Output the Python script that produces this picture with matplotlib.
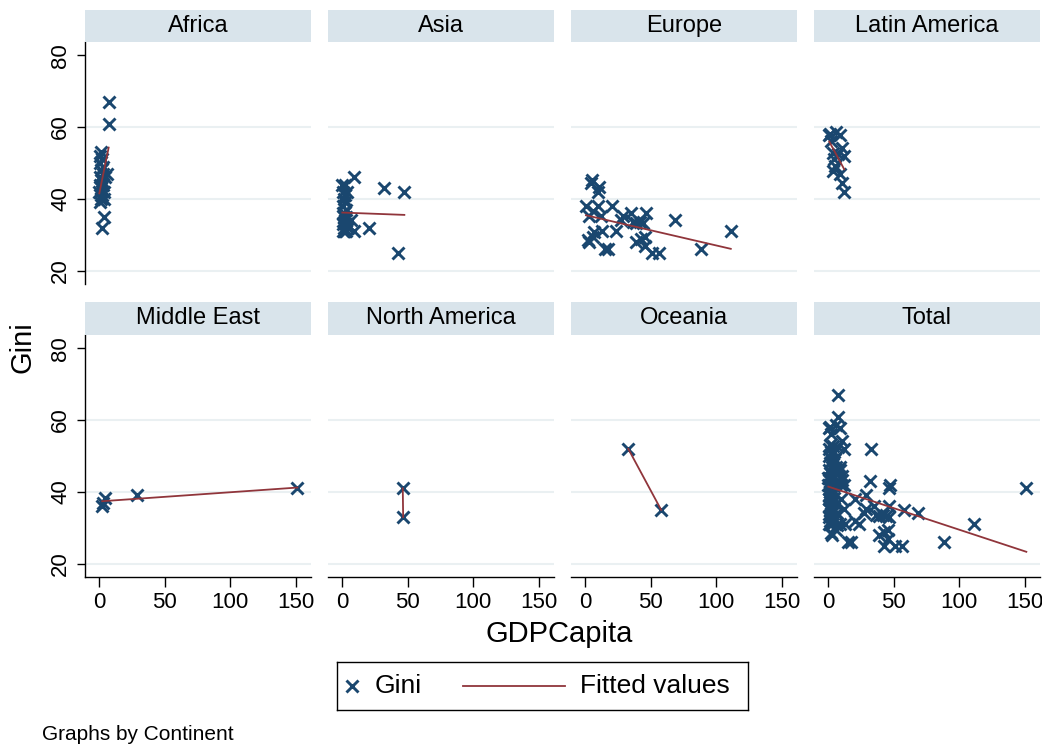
import matplotlib.pyplot as plt
import numpy as np

plt.rcParams['font.family'] = ['Liberation Sans', 'DejaVu Sans']

# GDP per capita (thousands) and Gini index, per continent
africa_gdp = [0.3, 0.5, 0.6, 0.8, 1.0, 1.1, 1.2, 1.4, 1.5, 1.7, 1.9, 2.0, 2.2,
              2.5, 2.8, 3.0, 3.3, 3.6, 4.0, 4.3, 2.5, 4.0, 5.8, 7.3, 7.4]
africa_gini = [42, 46, 39, 50, 44, 52, 41, 48, 43, 53, 40, 45, 51,
               41, 47, 44, 49, 42, 40, 46, 32, 35, 47, 61, 67]

asia_gdp = [0.3, 0.5, 0.7, 0.9, 1.0, 1.2, 1.4, 1.5, 1.7, 1.9, 2.0, 2.2, 2.4,
            2.6, 2.8, 3.0, 3.3, 3.6, 4.0, 4.5, 1.1, 2.3, 3.1,
            9.0, 31.8, 47.5, 20.7, 9.3, 7.0, 43.0]
asia_gini = [44, 31, 38, 33, 42, 35, 31, 40, 32, 36, 44, 34, 31,
             39, 33, 37, 31, 42, 33, 32, 36, 41, 35,
             46, 43, 42, 32, 31, 34, 25]

europe_gdp = [4.7, 5.6, 9.8, 10.5, 0.8, 9.8, 20.8, 3.4, 12.4, 29.0, 35.0, 46.5,
              41.8, 44.4, 68.8, 111.0, 88.0, 23.7, 12.9, 7.0, 3.4, 5.9, 14.9,
              17.4, 39.0, 43.0, 45.6, 45.6, 50.8, 56.0, 27.7, 36.7, 39.0, 2.0, 6.5]
europe_gini = [44.5, 45.3, 42.0, 43.4, 38.1, 38.1, 38.1, 35.1, 35.1, 35.1, 36.2, 36.0,
               33.7, 33.4, 34.0, 31.0, 26.0, 31.1, 31.1, 30.8, 28.0, 29.4, 26.0,
               26.0, 28.0, 28.7, 29.4, 26.8, 25.0, 25.0, 34.1, 33.7, 33.2, 28.5, 36.5]

latam_gdp = [1.0, 6.0, 9.4, 2.7, 11.0, 3.5, 12.4, 7.3, 4.8, 5.4, 3.5, 9.4, 11.0, 12.0, 1.5]
latam_gini = [57.9, 58.6, 57.7, 56.2, 54.1, 52.8, 52.0, 52.4, 51.1, 49.3, 47.9, 47.0, 44.4, 42.0, 58.0]

mideast_gdp = [2.5, 4.6, 3.0, 29.3, 151.0]
mideast_gini = [36.0, 38.4, 37.0, 39.2, 41.0]

namerica_gdp = [46.3, 46.6]
namerica_gini = [41.0, 33.0]

oceania_gdp = [33.0, 58.0]
oceania_gini = [52.0, 35.0]

continents = ['Africa', 'Asia', 'Europe', 'Latin America',
              'Middle East', 'North America', 'Oceania', 'Total']
gdp = [africa_gdp, asia_gdp, europe_gdp, latam_gdp,
       mideast_gdp, namerica_gdp, oceania_gdp]
gini = [africa_gini, asia_gini, europe_gini, latam_gini,
        mideast_gini, namerica_gini, oceania_gini]
gdp.append(sum(gdp, []))
gini.append(sum(gini, []))

marker_color = '#1a476f'
line_color = '#90353b'
strip_color = '#d9e4eb'
grid_color = '#eaf0f2'

W, H = 1042, 748
fig = plt.figure(figsize=(W / 100, H / 100), dpi=100)

col_left = [85, 328, 571, 814]
panel_w = 226
row_top = [42, 335]      # pixel y of plot top
panel_h = 242
strip_h = [32, 33]

for i, name in enumerate(continents):
    r, c = divmod(i, 4)
    left = col_left[c] / W
    bottom = (H - row_top[r] - panel_h) / H
    ax = fig.add_axes([left, bottom, panel_w / W, panel_h / H])

    x = np.array(gdp[i], dtype=float)
    y = np.array(gini[i], dtype=float)
    ax.plot(x, y, linestyle='none', marker='x', color=marker_color,
            markersize=9, markeredgewidth=2.1, zorder=3)
    slope, icept = np.polyfit(x, y, 1)
    xs = np.array([x.min(), x.max()])
    ax.plot(xs, icept + slope * xs, color=line_color, lw=1.3, zorder=4)

    ax.set_xlim(-10.6, 161.4)
    ax.set_ylim(16.3, 83.7)
    ax.set_yticks([20, 40, 60, 80])
    ax.set_xticks([0, 50, 100, 150])
    ax.grid(axis='y', color=grid_color, lw=1.5, zorder=0)
    ax.get_ygridlines()[-1].set_visible(False)
    ax.set_axisbelow(True)

    for s in ['top', 'right']:
        ax.spines[s].set_visible(False)
    ax.spines['left'].set_visible(c == 0)
    ax.spines['bottom'].set_visible(r == 1)
    for s in ['left', 'bottom']:
        ax.spines[s].set_linewidth(1.0)

    if c == 0:
        ax.tick_params(axis='y', length=6, width=1.0, labelsize=16, pad=4)
        for lab in ax.get_yticklabels():
            lab.set_rotation(90)
            lab.set_va('center')
    else:
        ax.tick_params(axis='y', length=0, labelleft=False)
    if r == 1:
        ax.tick_params(axis='x', length=7, width=1.0, labelsize=16, pad=4)
    else:
        ax.tick_params(axis='x', length=0, labelbottom=False)

    # strip title
    sax = fig.add_axes([left, (H - row_top[r]) / H, panel_w / W, strip_h[r] / H])
    sax.set_facecolor(strip_color)
    sax.set_xticks([])
    sax.set_yticks([])
    for s in sax.spines.values():
        s.set_visible(False)
    sax.text(0.5, 0.5, name, ha='center', va='center', fontsize=17,
             transform=sax.transAxes)

fig.text(22 / W, 1 - 347 / H, 'Gini', rotation=90, ha='center', va='center', fontsize=21)
fig.text(559 / W, 1 - 634 / H, 'GDPCapita', ha='center', va='center', fontsize=21)
fig.text(42 / W, 1 - 734 / H, 'Graphs by Continent', ha='left', va='center', fontsize=15)

# legend box drawn as its own small axes (pixel units inside)
lax = fig.add_axes([337 / W, (H - 710) / H, 411 / W, 48 / H])
lax.set_xlim(0, 411)
lax.set_ylim(0, 48)
lax.set_xticks([])
lax.set_yticks([])
for s in lax.spines.values():
    s.set_linewidth(1.0)
    s.set_color('black')
lax.plot([15], [24], linestyle='none', marker='x', color=marker_color,
         markersize=9, markeredgewidth=2.1)
lax.plot([126, 228], [24, 24], color=line_color, lw=1.3)
lax.text(38, 24, 'Gini', ha='left', va='center', fontsize=19)
lax.text(243, 24, 'Fitted values', ha='left', va='center', fontsize=19)

fig.savefig('out.png', dpi=100)
